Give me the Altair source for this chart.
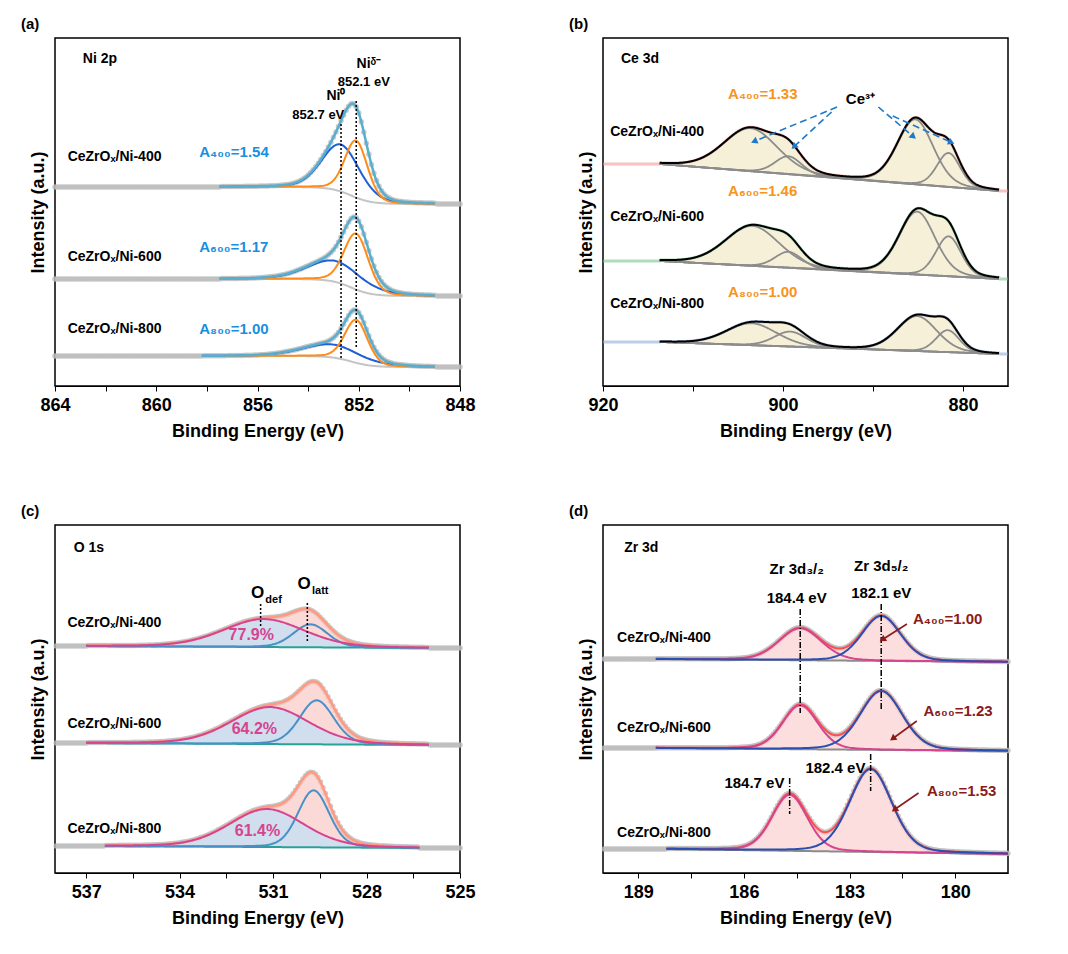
import altair as alt
import numpy as np
import pandas as pd

FONT = "Liberation Sans"
SAMPLES = ["400", "600", "800"]
LABELS = ["CeZrOₓ/Ni-400", "CeZrOₓ/Ni-600", "CeZrOₓ/Ni-800"]

# ---- Ni 2p: background (left, right) heights and peaks (center, height, sigma)
NI_BG = [(199, 182), (107, 90), (30, 19)]
NI_RANGE = [(857.5, 849), (857.5, 849), (858.2, 849)]
NI0 = [(852.7, 47, 0.75), (852.9, 21, 1.1), (853.0, 13, 1.2)]
NID = [(852.1, 57, 0.45), (852.1, 56, 0.48), (852.1, 43, 0.45)]
NI_A = ["A₄₀₀=1.54", "A₆₀₀=1.17", "A₈₀₀=1.00"]

# ---- Ce 3d
CE_BG = [(222, 195), (125, 107), (44, 32)]
CE_RANGE = (913.7, 876)
CE_PEAKS = [
    [(903.6, 43, 3.0), (899.4, 18, 1.5), (885.3, 65, 2.0), (881.6, 34, 1.3)],
    [(903.4, 40, 3.0), (899.4, 16, 1.5), (885.1, 63, 2.0), (881.6, 40, 1.4)],
    [(903.5, 22, 2.8), (899.2, 15, 1.8), (885.1, 35, 2.2), (881.7, 22, 1.3)],
]
CE_A = ["A₄₀₀=1.33", "A₆₀₀=1.46", "A₈₀₀=1.00"]
CE_RAW_COLORS = ["#f4908c", "#6cc08a", "#86a6d8"]

# ---- O 1s
O_BG = [(227, 225), (130, 128), (27, 25)]
O_RANGE = [(537.0, 526.0), (537.0, 526.0), (536.4, 526.3)]
O_DEF = [(531.3, 28, 1.3), (531.1, 37, 1.25), (531.2, 38, 1.2)]
O_LATT = [(529.8, 23, 0.55), (529.6, 44, 0.55), (529.7, 57, 0.5)]
O_PCT = ["77.9%", "64.2%", "61.4%"]

# ---- Zr 3d
ZR_BG = [(214, 211), (125, 122), (24, 19)]
ZR_RANGE = [(188.5, 178.5), (188.5, 178.5), (188.2, 178.5)]
ZR32 = [(184.4, 32, 0.6), (184.4, 44, 0.5), (184.7, 56, 0.5)]
ZR52 = [(182.1, 45, 0.55), (182.1, 59, 0.6), (182.4, 83, 0.6)]
ZR_A = ["A₄₀₀=1.00", "A₆₀₀=1.23", "A₈₀₀=1.53"]

W, H = 405, 348


def peak(x, c, h, s):
    g = np.exp(-((x - c) ** 2) / (2 * s * s))
    lz = 1 / (1 + ((x - c) / (1.18 * s)) ** 2)
    return h * (0.8 * g + 0.2 * lz)


def bg_line(x, lo_x, hi_x, left, right, step=None):
    if step is None:
        t = (lo_x - x) / (lo_x - hi_x)
        return left + (right - left) * np.clip(t, 0, 1)
    return right + (left - right) * 0.5 * (1 + np.tanh((x - step) / 0.8))


def build(xmin, xmax, ranges, bgs, peaks, dx, step=None):
    rows = []
    for i, s in enumerate(SAMPLES):
        a, b = ranges[i]
        xf = np.arange(b, a + 1e-9, 0.05)
        bgf = bg_line(xf, a, b, bgs[i][0], bgs[i][1], step)
        env = bgf.copy()
        for k, p in enumerate(peaks[i]):
            comp = peak(xf, *p)
            env = env + comp
            rows += [dict(x=x, y=yy + bb, base=bb, s=s, kind=f"c{k}") for x, yy, bb in zip(xf, comp, bgf)]
        rows += [dict(x=x, y=yy, base=bb, s=s, kind="env") for x, yy, bb in zip(xf, env, bgf)]
        rows += [dict(x=x, y=bb, base=bb, s=s, kind="bg") for x, bb in zip(xf, bgf)]
        xr = np.arange(xmax, xmin + 1e-9, dx)
        br = bg_line(xr, a, b, bgs[i][0], bgs[i][1], step)
        er = br.copy()
        for p in peaks[i]:
            er = er + np.where((xr <= a) & (xr >= b), peak(xr, *p), 0)
        rows += [dict(x=x, y=yy, base=yy, s=s, kind="raw") for x, yy in zip(xr, er)]
    return pd.DataFrame(rows)


def xenc(dom, ticks):
    return alt.X("x:Q", scale=alt.Scale(domain=dom, reverse=True, nice=False, zero=False),
                 axis=alt.Axis(values=ticks, title="Binding Energy (eV)", grid=False,
                               labelFont=FONT, labelFontSize=18, labelFontWeight="bold", labelColor="black",
                               titleFont=FONT, titleFontSize=18, titleFontWeight="bold", titleColor="black",
                               tickColor="black", domainColor="black", labelPadding=5, titlePadding=8,
                               labelFlush=False, labelOverlap=False))


def yenc(field="y"):
    return alt.Y(f"{field}:Q", scale=alt.Scale(domain=[0, H], nice=False, zero=False),
                 axis=alt.Axis(labels=False, ticks=False, domain=False, grid=False, title="Intensity (a.u.)",
                               titleFont=FONT, titleFontSize=18, titleFontWeight="bold", titleColor="black",
                               titlePadding=8))


def line(df, kind, color, dom, ticks, width=2.0):
    return alt.Chart(df[df.kind == kind]).mark_line(strokeWidth=width, color=color).encode(
        x=xenc(dom, ticks), y=yenc(), detail="s:N")


def texts(xs, ys, ts, dom, ticks, color="black", size=14, align="left", weight="bold"):
    d = pd.DataFrame(dict(x=xs, y=ys, t=ts))
    return alt.Chart(d).mark_text(font=FONT, fontSize=size, fontWeight=weight, color=color,
                                  align=align, baseline="middle").encode(
        x=xenc(dom, ticks), y=yenc(), text="t:N")


def vrules(xs, y1, y2, dom, ticks, dash, color="black", width=1.5):
    d = pd.DataFrame(dict(x=xs, y=y1, y2=y2))
    return alt.Chart(d).mark_rule(strokeDash=dash, color=color, strokeWidth=width).encode(
        x=xenc(dom, ticks), y=yenc(), y2="y2:Q")


def arrows(seg, dom, ticks, ppe, color, dash=None):
    d = pd.DataFrame(seg, columns=["x", "y", "x2", "y2"])
    d["ang"] = [(np.degrees(np.arctan2(-(r.x2 - r.x) * ppe, (r.y2 - r.y))) + 360) % 360
                for r in d.itertuples()]
    rule = alt.Chart(d).mark_rule(color=color, strokeWidth=1.6, **({"strokeDash": dash} if dash else {})).encode(
        x=xenc(dom, ticks), y=yenc(), x2="x2:Q", y2="y2:Q")
    head = alt.Chart(d).mark_point(shape="triangle", filled=True, color=color, size=55, opacity=1).encode(
        x="x2:Q", y="y2:Q", angle=alt.Angle("ang:Q", scale=None))
    return rule + head


def area(df, kind, color, dom, ticks, opacity):
    return alt.Chart(df[df.kind == kind]).mark_area(color=color, opacity=opacity).encode(
        x=xenc(dom, ticks), y=yenc(), y2="base:Q", detail="s:N")


def panel(layers, tag):
    return alt.layer(*layers).properties(
        width=W, height=H,
        title=alt.TitleParams(tag, anchor="start", frame="group", dx=-34, offset=6, font=FONT,
                              fontSize=15, fontWeight="bold"))


def raw_points(df, dom, ticks):
    return alt.Chart(df[df.kind == "raw"]).mark_circle(size=30, color="#bdbdbd", opacity=0.8).encode(
        x=xenc(dom, ticks), y=yenc())


# ---------- panel a
da, ta = [848, 864], [864, 862, 860, 858, 856, 854, 852, 850, 848]
df_a = build(864, 848, NI_RANGE, NI_BG, [[n0, nd] for n0, nd in zip(NI0, NID)], 0.1, step=852.3)
ch_a = panel([
    raw_points(df_a, da, ta),
    line(df_a, "bg", "#c4c4c4", da, ta),
    line(df_a, "c0", "#1f5fd6", da, ta),
    line(df_a, "c1", "#ff8c1a", da, ta),
    line(df_a, "env", "#58aecf", da, ta, 2.5),
    vrules([852.7, 852.1], [262, 285], [27, 37], da, ta, [2, 2]),
    texts([863.5] * 3, [229, 129, 57], LABELS, da, ta),
    texts([858.3] * 3, [234, 139, 57], NI_A, da, ta, color="#1a8fe0", size=15),
    texts([862.9], [327], ["Ni 2p"], da, ta),
    texts([852.9, 851.6], [290, 322], ["Ni⁰", "Niᵟ⁻"], da, ta, align="center", size=14),
    texts([853.6, 851.8], [271, 304], ["852.7 eV", "852.1 eV"], da, ta, align="center", size=13),
], "(a)")

# ---------- panel b
db, tb = [875, 920], [920, 910, 900, 890, 880]
df_b = build(920, 875, [CE_RANGE] * 3, CE_BG, CE_PEAKS, 0.1)
raw_b = [alt.Chart(df_b[(df_b.kind == "raw") & (df_b.s == s)]).mark_line(
    strokeWidth=3, opacity=0.55, color=c).encode(x=xenc(db, tb), y=yenc())
    for s, c in zip(SAMPLES, CE_RAW_COLORS)]
ch_b = panel([area(df_b, "env", "#efe3b8", db, tb, 0.55)] + raw_b + [
    line(df_b, "bg", "#8c8c8c", db, tb, 1.8),
    line(df_b, "c0", "#8c8c8c", db, tb, 1.8),
    line(df_b, "c1", "#8c8c8c", db, tb, 1.8),
    line(df_b, "c2", "#8c8c8c", db, tb, 1.8),
    line(df_b, "c3", "#8c8c8c", db, tb, 1.8),
    line(df_b, "env", "black", db, tb, 2.0),
    texts([919.2] * 3, [254, 169, 82], LABELS, db, tb),
    texts([906.1] * 3, [292, 195, 94], CE_A, db, tb, color="#f7941d", size=15),
    texts([918.0], [327], ["Ce 3d"], db, tb),
    texts([891.4], [287], ["Ce³⁺"], db, tb, align="center", size=15),
    arrows([(894.0, 279, 903.1, 245), (894.6, 274, 898.7, 240),
            (889.4, 279, 885.6, 250), (887.8, 270, 881.4, 244)], db, tb, 9.0, "#1f78c8", [7, 4]),
], "(b)")

# ---------- panel c
dc, tc = [525, 538], [537, 535.5, 534, 532.5, 531, 529.5, 528, 526.5, 525]
df_c = build(538, 525, O_RANGE, O_BG, [[p, q] for p, q in zip(O_DEF, O_LATT)], 0.08)
ch_c = panel([
    raw_points(df_c, dc, tc),
    area(df_c, "env", "#f9c9c4", dc, tc, 0.7),
    area(df_c, "c0", "#c9def2", dc, tc, 0.85),
    line(df_c, "bg", "#2aa198", dc, tc),
    line(df_c, "env", "#ff9a80", dc, tc, 2.5),
    line(df_c, "c1", "#4a90c8", dc, tc),
    line(df_c, "c0", "#d6448f", dc, tc),
    vrules([531.4, 529.9], [269, 270], [247, 230], dc, tc, [2, 2]),
    texts([537.6] * 3, [250, 149, 44], LABELS, dc, tc),
    texts([531.7, 531.6, 531.5], [238, 144, 42], O_PCT, dc, tc, color="#d6448f", size=16, align="center"),
    texts([537.4], [325], ["O 1s"], dc, tc),
    texts([531.5, 530.0], [280, 289], ["O", "O"], dc, tc, align="center", size=17),
    texts([531.25, 529.75], [273, 282], ["def", "latt"], dc, tc, align="left", size=11),
], "(c)")

# ---------- panel d
dd, td = [178.5, 190], [189, 187.5, 186, 184.5, 183, 181.5, 180]
df_d = build(190, 178.5, ZR_RANGE, ZR_BG, [[p, q] for p, q in zip(ZR32, ZR52)], 0.06)
ch_d = panel([
    raw_points(df_d, dd, td),
    area(df_d, "env", "#fbd0d0", dd, td, 0.7),
    line(df_d, "bg", "#8c8c8c", dd, td),
    line(df_d, "env", "#ff4d4d", dd, td),
    line(df_d, "c0", "#d6448f", dd, td),
    line(df_d, "c1", "#2b4fb0", dd, td),
    vrules([184.4, 182.1, 182.4, 184.7], [264, 269, 119, 95], [160, 164, 82, 59], dd, td, [6, 2, 1, 2]),
    texts([189.6] * 3, [235, 145, 40], LABELS, dd, td),
    texts([189.4], [325], ["Zr 3d"], dd, td),
    texts([184.5, 182.1], [304, 307], ["Zr 3d₃/₂", "Zr 3d₅/₂"], dd, td, align="center", size=15),
    texts([184.5, 182.1, 183.4, 185.7], [275, 280, 105, 90],
          ["184.4 eV", "182.1 eV", "182.4 eV", "184.7 eV"], dd, td, align="center", size=15),
    texts([181.2, 180.9, 180.8], [254, 162, 82], ZR_A, dd, td, color="#8b1a1a", size=15),
    arrows([(181.37, 249, 182.04, 234), (181.09, 152, 181.75, 135), (181.04, 80, 181.70, 64)],
           dd, td, 35.2, "#8b1a1a"),
], "(d)")

chart = alt.vconcat(
    alt.hconcat(ch_a, ch_b, spacing=92),
    alt.hconcat(ch_c, ch_d, spacing=92),
    spacing=62,
).configure_view(stroke="black", strokeWidth=1.5).configure_axis(
    labelExpr="datum.value % 1 == 0 && (datum.value % 4 == 0 || datum.value % 3 == 0 && datum.value < 600 || datum.value % 20 == 0) ? datum.label : ''"
).properties(padding={"left": 12, "top": 8, "right": 5, "bottom": 0}, background="white")

chart.save("out.html", embed_options={"renderer": "svg", "actions": False})
